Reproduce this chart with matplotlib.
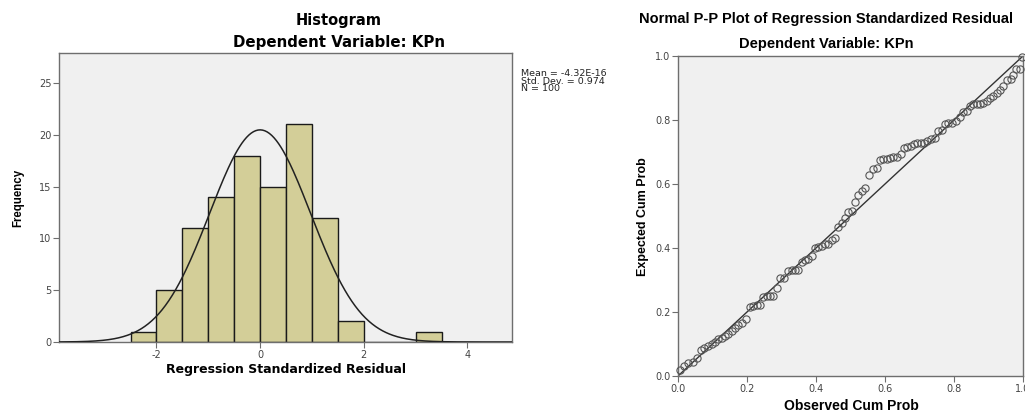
import numpy as np
import matplotlib
matplotlib.use("Agg")
import matplotlib.pyplot as plt

plt.rcParams["axes.unicode_minus"] = False

# ---------------- datos del histograma ----------------
bin_edges = [-2.5, -2.0, -1.5, -1.0, -0.5, 0.0, 0.5, 1.0, 1.5, 2.0, 2.5, 3.0, 3.5]
frecuencias = [1, 5, 11, 14, 18, 15, 21, 12, 2, 0, 0, 1]
media = -4.32e-16
desv = 0.974
n_obs = 100

# ---------------- datos del P-P plot ----------------
obs_cum = [0.006, 0.017, 0.030, 0.043, 0.054, 0.066, 0.075, 0.088, 0.098, 0.107,
           0.117, 0.127, 0.136, 0.146, 0.156, 0.165, 0.175, 0.185, 0.197, 0.209,
           0.218, 0.228, 0.238, 0.245, 0.257, 0.267, 0.276, 0.288, 0.296, 0.307,
           0.320, 0.330, 0.339, 0.349, 0.358, 0.368, 0.378, 0.387, 0.397, 0.407,
           0.416, 0.426, 0.436, 0.445, 0.455, 0.465, 0.474, 0.484, 0.494, 0.503,
           0.513, 0.523, 0.532, 0.542, 0.554, 0.566, 0.576, 0.586, 0.595, 0.605,
           0.615, 0.624, 0.634, 0.645, 0.655, 0.665, 0.674, 0.684, 0.694, 0.703,
           0.713, 0.723, 0.732, 0.745, 0.755, 0.764, 0.774, 0.784, 0.793, 0.806,
           0.816, 0.825, 0.837, 0.847, 0.856, 0.866, 0.875, 0.885, 0.895, 0.904,
           0.914, 0.924, 0.933, 0.943, 0.955, 0.964, 0.972, 0.981, 0.991, 0.998]
exp_cum = [0.019, 0.031, 0.040, 0.045, 0.055, 0.081, 0.086, 0.094, 0.100, 0.107,
           0.115, 0.118, 0.125, 0.131, 0.141, 0.151, 0.159, 0.167, 0.177, 0.217,
           0.220, 0.222, 0.222, 0.248, 0.250, 0.251, 0.251, 0.276, 0.305, 0.307,
           0.329, 0.331, 0.331, 0.331, 0.355, 0.362, 0.366, 0.375, 0.401, 0.404,
           0.407, 0.411, 0.413, 0.425, 0.430, 0.465, 0.477, 0.493, 0.514, 0.517,
           0.545, 0.565, 0.579, 0.586, 0.628, 0.646, 0.649, 0.675, 0.677, 0.677,
           0.680, 0.684, 0.684, 0.693, 0.711, 0.717, 0.720, 0.724, 0.727, 0.729,
           0.729, 0.735, 0.740, 0.743, 0.766, 0.769, 0.788, 0.790, 0.792, 0.798,
           0.810, 0.826, 0.828, 0.844, 0.849, 0.849, 0.850, 0.852, 0.860, 0.868,
           0.875, 0.883, 0.894, 0.906, 0.925, 0.927, 0.940, 0.958, 0.958, 0.997]

W, H = 1025, 412
FONDO = "#F0F0F0"
GRIS = "#6E6E6E"

fig = plt.figure(figsize=(W / 100, H / 100), dpi=100)


def caja(x0, y0, x1, y1):
    # posicion en pixeles -> fraccion de figura
    return [x0 / W, 1 - y1 / H, (x1 - x0) / W, (y1 - y0) / H]


def estilo(ax):
    ax.set_facecolor(FONDO)
    for s in ax.spines.values():
        s.set_color(GRIS)
        s.set_linewidth(1.0)
    ax.tick_params(direction="out", length=4, width=0.8, color=GRIS,
                   labelsize=7, labelcolor="#444444", pad=1.5)


# ================= HISTOGRAMA =================
ax1 = fig.add_axes(caja(59, 53, 512, 342))
estilo(ax1)
ax1.hist(bin_edges[:-1], bins=bin_edges, weights=frecuencias,
         color="#D3CE98", edgecolor="#1a1a1a", linewidth=1.0, zorder=2)
xs = np.linspace(-3.9, 4.9, 400)
ancho = bin_edges[1] - bin_edges[0]
curva = n_obs * ancho / (desv * np.sqrt(2 * np.pi)) * np.exp(-0.5 * ((xs - media) / desv) ** 2)
ax1.plot(xs, curva, color="#222222", linewidth=1.1, zorder=3)
ax1.set_xlim(-3.88, 4.86)
ax1.set_ylim(0, 27.9)
ax1.set_xticks([-2, 0, 2, 4])
ax1.set_yticks([0, 5, 10, 15, 20, 25])

fig.text(339 / W, 1 - 21 / H, "Histogram", ha="center", va="center",
         fontsize=10.5, fontweight="bold", family="DejaVu Sans")
fig.text(339 / W, 1 - 43 / H, "Dependent Variable: KPn", ha="center", va="center",
         fontsize=10.8, fontweight="bold", family="DejaVu Sans")
fig.text(286 / W, 1 - 370 / H, "Regression Standardized Residual", ha="center",
         va="center", fontsize=9, fontweight="bold", family="DejaVu Sans")
fig.text(18 / W, 1 - 198 / H, "Frequency", ha="center", va="center", rotation=90,
         fontsize=8.3, fontweight="bold", family="Liberation Sans")
fig.text(521 / W, 1 - 69 / H,
         "Mean = -4.32E-16\nStd. Dev. = 0.974\nN = 100",
         ha="left", va="top", fontsize=6.8, linespacing=0.8,
         family="DejaVu Sans", color="#222222")

# ================= P-P PLOT =================
ax2 = fig.add_axes(caja(678, 56, 1023, 376))
estilo(ax2)
ax2.plot([0, 1], [0, 1], color="#333333", linewidth=1.0, zorder=2)
ax2.plot(obs_cum, exp_cum, linestyle="none", marker="o", markersize=5.2,
         markerfacecolor="none", markeredgecolor="#555555",
         markeredgewidth=0.8, zorder=3, clip_on=False)
ax2.set_xlim(0, 1)
ax2.set_ylim(0, 1)
ticks = [0.0, 0.2, 0.4, 0.6, 0.8, 1.0]
ax2.set_xticks(ticks)
ax2.set_yticks(ticks)
ax2.set_xticklabels([f"{t:.1f}" for t in ticks])
ax2.set_yticklabels([f"{t:.1f}" for t in ticks])

fig.text(826 / W, 1 - 19 / H, "Normal P-P Plot of Regression Standardized Residual",
         ha="center", va="center", fontsize=10.5, fontweight="bold",
         family="Liberation Sans")
fig.text(826 / W, 1 - 44 / H, "Dependent Variable: KPn", ha="center", va="center",
         fontsize=10.5, fontweight="bold", family="Liberation Sans")
fig.text(851 / W, 1 - 406 / H, "Observed Cum Prob", ha="center", va="center",
         fontsize=10, fontweight="bold", family="Liberation Sans")
fig.text(643 / W, 1 - 217 / H, "Expected Cum Prob", ha="center", va="center",
         rotation=90, fontsize=9, fontweight="bold", family="Liberation Sans")

fig.savefig("out.png", dpi=100, facecolor="white")
